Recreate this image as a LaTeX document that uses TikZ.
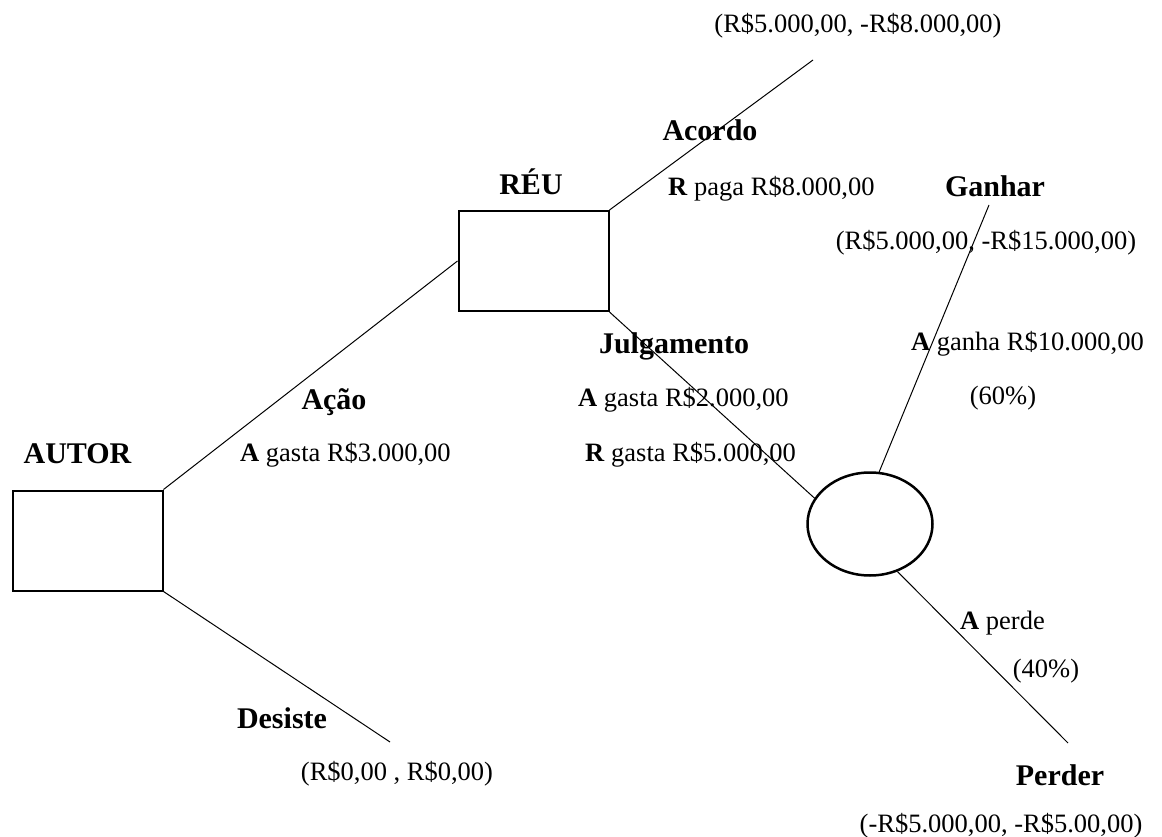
\documentclass[tikz,border=0pt]{standalone}
\usepackage{fontspec}
\setmainfont{Liberation Serif}
\usetikzlibrary{shapes.geometric}
\begin{document}
\begin{tikzpicture}[x=1pt,y=-1pt,
  lbl/.style={font=\fontsize{26.5}{30}\selectfont, inner sep=0pt, text height=17.5pt, text depth=0pt},
  hd/.style={font=\fontsize{30}{34}\selectfont\bfseries, inner sep=0pt, text height=20pt, text depth=0pt},
  decbox/.style={draw, line width=2pt, minimum width=150pt, minimum height=100pt, inner sep=0pt},
  chancenode/.style={draw, ellipse, line width=2.5pt, minimum width=125pt, minimum height=103pt, inner sep=0pt},
  branch/.style={line width=1pt}]
\useasboundingbox (0,0) rectangle (1162,837);
% decision / chance nodes
\node[decbox] (autor) at (87.5,540.5) {};
\node[decbox] (reu) at (533.5,261) {};
\node[chancenode] (chance) at (870,524) {};
% free ends
\coordinate (acEnd) at (813,60);
\coordinate (deEnd) at (390,742);
\coordinate (gaEnd) at (989,205);
\coordinate (peEnd) at (1068,743);
% branches
\draw[branch] (autor.north east) -- (reu.west);
\draw[branch] (autor.south east) -- (deEnd);
\draw[branch] (reu.north east) -- (acEnd);
\draw[branch] (reu.south east) -- (chance.155);
\draw[branch] (chance.80) -- (gaEnd);
\draw[branch] (chance.-60) -- (peEnd);
% labels
\node[lbl] (payAc) at (858,24) {(R\$5.000,00, -R\$8.000,00)};
\node[hd] (tAcordo) at (710,131) {Acordo};
\node[hd] (tReu) at (531,185) {RÉU};
\node[lbl,anchor=west] (tRpaga) at (668,187) {\textbf{R} paga R\$8.000,00};
\node[hd] (tGanhar) at (995,187) {Ganhar};
\node[lbl] (payGa) at (986,241) {(R\$5.000,00, -R\$15.000,00)};
\node[hd] (tJulg) at (674,343) {Julgamento};
\node[lbl,anchor=west] (tGanha) at (911,342) {\textbf{A} ganha R\$10.000,00};
\node[lbl] (t60) at (1003,396) {(60\%)};
\node[hd] (tAcao) at (334,399) {Ação};
\node[hd] (tAutor) at (77.5,453) {AUTOR};
\node[lbl,anchor=west] (tGasta3) at (240,453) {\textbf{A} gasta R\$3.000,00};
\node[lbl,anchor=west] (tGasta2) at (578,398) {\textbf{A} gasta R\$2.000,00};
\node[lbl,anchor=west] (tGasta5) at (585,453) {\textbf{R} gasta R\$5.000,00};
\node[lbl,anchor=west] (tPerde) at (960,621) {\textbf{A} perde};
\node[lbl] (t40) at (1046,669) {(40\%)};
\node[hd] (tDesiste) at (282,718) {Desiste};
\node[lbl] (payDe) at (397,772) {(R\$0,00 , R\$0,00)};
\node[hd] (tPerder) at (1060,775) {Perder};
\node[lbl] (payPe) at (1001,824) {(-R\$5.000,00, -R\$5.00,00)};
\end{tikzpicture}
\end{document}
